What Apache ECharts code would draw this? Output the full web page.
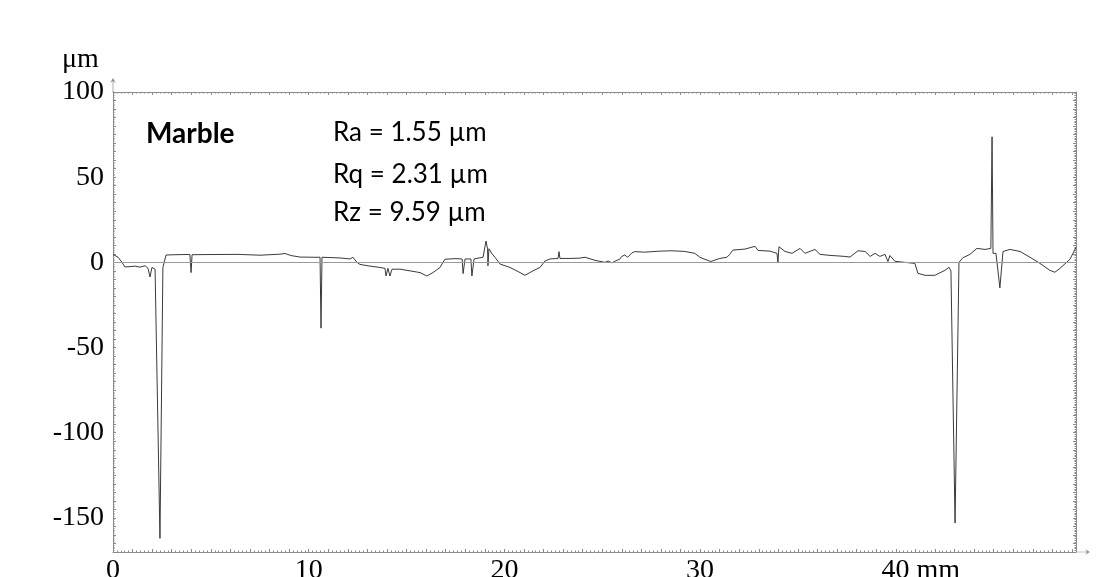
<!DOCTYPE html>
<html>
<head>
<meta charset="utf-8">
<script src="https://cdn.jsdelivr.net/npm/echarts@6/dist/echarts.min.js"></script>
<style>
html,body{margin:0;padding:0;background:#fff;}
#chart{width:1114px;height:577px;}
</style>
</head>
<body>
<div id="chart"></div>
<script>
// Profile: distance (mm) and height (µm)
const distanceMm = [
  0.00,0.26,0.46,0.61,0.87,1.12,1.38,1.64,1.79,1.89,1.99,2.15,2.25,2.40,2.55,2.71,3.17,3.68,3.93,3.99,
  4.04,4.96,6.39,7.51,8.53,8.79,8.89,9.10,9.56,10.32,10.58,10.63,10.68,11.60,12.11,12.26,12.47,12.62,13.13,13.64,
  13.90,13.95,14.05,14.15,14.26,14.67,15.18,15.69,16.04,16.35,16.71,16.96,17.48,17.84,17.89,17.99,18.29,18.34,18.45,18.91,
  19.06,19.14,19.16,19.21,19.37,19.52,19.78,20.29,20.80,21.05,21.46,21.82,22.07,22.33,22.74,22.79,22.84,23.35,23.86,24.12,
  24.63,25.14,25.30,25.50,25.70,25.89,26.00,26.15,26.30,26.51,26.66,27.17,27.95,28.56,29.22,29.73,29.99,30.25,30.55,31.01,
  31.37,31.50,31.68,32.29,32.81,32.96,33.57,33.93,33.98,34.03,34.34,34.70,35.11,35.36,35.87,36.13,36.64,37.40,37.66,38.07,
  38.43,38.69,38.94,39.19,39.45,39.60,39.70,39.96,40.47,40.98,41.13,41.49,42.00,42.51,42.72,42.82,43.03,43.23,43.28,43.43,
  43.79,44.15,44.56,44.86,44.92,44.97,45.12,45.32,45.48,45.84,46.35,46.86,47.37,47.88,48.13,48.39,48.90,49.21
];
const heightUm = [
  4.7,3.0,0.0,-2.7,-2.5,-2.2,-2.8,-2.0,-3.5,-8.6,-3.0,-4.0,-3.5,-162,-3.0,4.3,4.5,4.6,4.6,-6.0,
  4.5,4.6,4.7,4.2,4.8,5.2,6.0,4.0,3.1,3.0,3.0,-38.6,3.0,2.6,2.0,3.0,0.0,-1.2,-2.2,-3.0,
  -3.5,-8.0,-3.5,-8.0,-4.0,-4.0,-5.0,-6.0,-8.0,-6.0,-3.0,1.8,2.2,2.0,-6.6,2.0,2.0,-8.0,2.0,3.0,
  12.5,8.0,-2.0,8.0,5.0,3.0,-1.0,-3.0,-6.0,-7.6,-5.0,-3.0,0.8,2.0,2.3,6.3,2.3,2.3,2.5,3.0,
  1.2,0.0,0.8,-0.3,1.0,1.8,3.5,4.3,3.0,5.5,6.3,6.0,6.6,6.8,6.4,5.3,3.0,1.8,0.5,2.3,
  3.0,4.5,7.2,7.8,9.4,7.0,6.6,5.3,0.0,9.2,6.4,5.3,8.2,5.3,7.6,4.7,4.1,3.5,3.1,6.8,
  6.4,3.5,5.3,3.5,4.7,0.5,4.0,0.6,0.0,-0.6,-6.4,-7.6,-7.6,-4.7,-2.9,-5.0,-153,0.0,0.6,2.7,
  4.7,8.2,7.6,8.2,73.7,5.3,5.3,-15.0,6.4,7.6,6.4,3.0,-0.6,-4.7,-5.8,-3.5,1.8,8.8
];
const xRange = [0, 49.21];
const yRange = [-170, 100];
const xLabelValues = [0, 10, 20, 30, 40];
const yLabelValues = [100, 50, 0, -50, -100, -150];
const xUnit = 'mm';
const yUnit = 'μm';
const sampleName = 'Marble';
const roughness = ['Ra = 1.55 µm', 'Rq = 2.31 µm', 'Rz = 9.59 µm'];

const profile = distanceMm.map((x, i) => [x, heightUm[i]]);
const serif = '"Liberation Serif", "Times New Roman", serif';
const sans = 'Lato, "Open Sans", sans-serif';
const axisGray = '#8a8a8a';

const chart = echarts.init(document.getElementById('chart'), null, {renderer: 'canvas'});

const baseX = {
  type: 'value', min: xRange[0], max: xRange[1], interval: 1,
  splitLine: {show: false},
  axisLine: {onZero: false, lineStyle: {color: axisGray, width: 1}},
  axisTick: {inside: true, length: 3, lineStyle: {color: axisGray}},
  minorTick: {show: true, splitNumber: 5, length: 1.5, lineStyle: {color: axisGray}}
};
const baseY = {
  type: 'value', min: yRange[0], max: yRange[1], interval: 5,
  splitLine: {show: false},
  axisLine: {onZero: false, lineStyle: {color: axisGray, width: 1}},
  axisTick: {inside: true, length: 3, lineStyle: {color: axisGray}},
  minorTick: {show: true, splitNumber: 5, length: 1.5, lineStyle: {color: axisGray}}
};

const arrowUp = 'path://M5,0 L9,7 L5,4 L1,7 Z M4.5,3 L5.5,3 L5.5,20 L4.5,20 Z';

chart.setOption({
  animation: false,
  backgroundColor: '#fff',
  grid: {left: 113, right: 38, top: 92, bottom: 25, containLabel: false, outerBoundsMode: 'none'},
  xAxis: [
    Object.assign({}, baseX, {
      position: 'bottom',
      axisLine: {onZero: false, lineStyle: {color: axisGray, width: 1},
        symbol: ['none', arrowUp], symbolSize: [7, 14], symbolOffset: [0, 7]},
      axisLabel: {
        show: true, margin: 5, color: '#000', fontFamily: serif, fontSize: 28,
        showMinLabel: true, showMaxLabel: false,
        formatter: function (v) {
          if (xLabelValues.indexOf(v) < 0) return '';
          if (v === xLabelValues[xLabelValues.length - 1]) return '{p|}' + v + ' ' + xUnit;
          return String(v);
        },
        rich: {p: {width: 50, fontSize: 28, fontFamily: serif}}
      }
    }),
    Object.assign({}, baseX, {position: 'top', axisLabel: {show: false}})
  ],
  yAxis: [
    Object.assign({}, baseY, {
      position: 'left',
      axisLine: {onZero: false, lineStyle: {color: axisGray, width: 1},
        symbol: ['none', arrowUp], symbolSize: [7, 14], symbolOffset: [0, 7]},
      axisLabel: {
        show: true, margin: 9, color: '#000', fontFamily: serif, fontSize: 28,
        showMaxLabel: true, showMinLabel: false,
        formatter: function (v) { return yLabelValues.indexOf(v) >= 0 ? String(v) : ''; }
      }
    }),
    Object.assign({}, baseY, {position: 'right', axisLabel: {show: false}})
  ],
  series: [{
    type: 'line',
    data: profile,
    showSymbol: false,
    symbol: 'none',
    lineStyle: {color: '#3a3a3a', width: 1},
    z: 3,
    markLine: {
      silent: true, symbol: 'none', animation: false,
      label: {show: false},
      lineStyle: {color: '#9a9a9a', width: 1.2, type: 'solid'},
      data: [[{coord: [xRange[0], 0]}, {coord: [xRange[1], 0]}]]
    }
  }],
  graphic: [
    {type: 'text', left: 62, top: 46, style: {text: yUnit, font: '28px ' + serif, fill: '#000'}},
    {type: 'text', left: 146, top: 120, style: {text: sampleName, font: 'bold 28px ' + sans, fill: '#000'}},
    {type: 'text', left: 333, top: 120, style: {text: roughness[0], font: '26px ' + sans, fill: '#000'}},
    {type: 'text', left: 333, top: 162, style: {text: roughness[1], font: '26px ' + sans, fill: '#000'}},
    {type: 'text', left: 333, top: 200, style: {text: roughness[2], font: '26px ' + sans, fill: '#000'}}
  ]
});
</script>
</body>
</html>
